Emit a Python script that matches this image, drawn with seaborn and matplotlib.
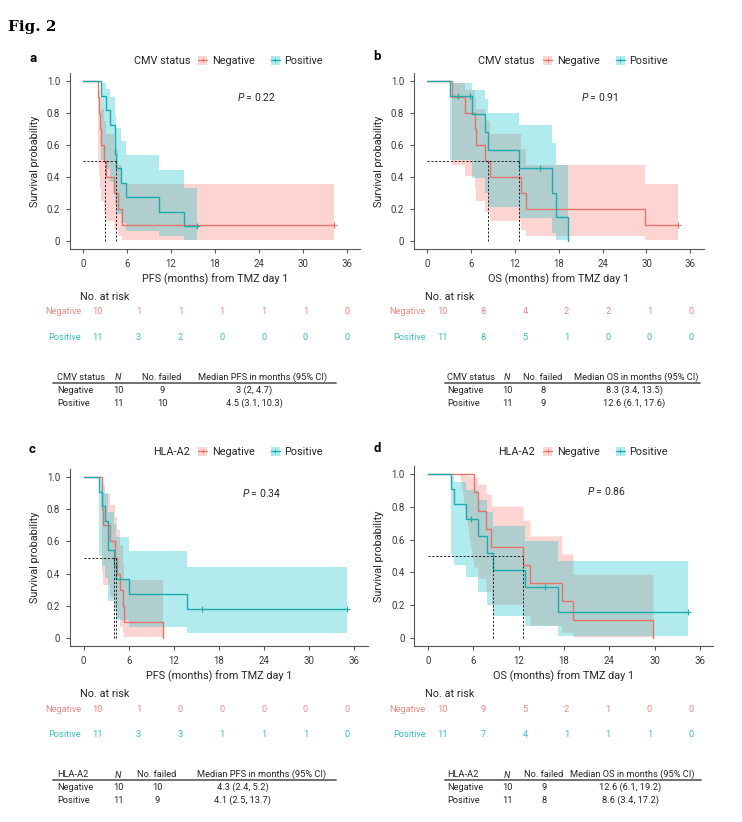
import numpy as np
import seaborn as sns
import matplotlib.pyplot as plt
from matplotlib.lines import Line2D
from matplotlib.patches import Patch
from matplotlib.legend_handler import HandlerTuple

W, H = 742, 822

# ---------------- data ----------------
x_ticks = [0, 6, 12, 18, 24, 30, 36]
y_ticks = [0, 0.2, 0.4, 0.6, 0.8, 1.0]
y_tick_labels = ["0", "0.2", "0.4", "0.6", "0.8", "1.0"]
groups = ["Negative", "Positive"]

# confidence limits of the uncensored groups (10 and 11 patients)
ci10_lo = [1, .473, .409, .329, .253, .184, .123, .071, .031, .006]
ci10_hi = [1, .985, .946, .892, .827, .753, .670, .578, .475, .358]
ci11_lo = [1, .508, .447, .371, .297, .229, .167, .112, .065, .029, .005]
ci11_hi = [1, .987, .951, .903, .845, .780, .707, .627, .539, .442, .333]
surv10 = [1, .9, .8, .7, .6, .5, .4, .3, .2, .1]
surv11 = [1, .909, .818, .727, .636, .545, .455, .364, .273, .182, .091]

# a: PFS by CMV status
a_neg_t = [0, 2.0, 2.2, 2.3, 2.4, 2.9, 3.1, 4.2, 4.7, 5.3, 34.2]
a_neg_s = surv10 + [.1]
a_neg_lo = ci10_lo + [.006]
a_neg_hi = ci10_hi + [.358]
a_neg_cens = [34.2]
a_pos_t = [0, 2.5, 3.1, 3.6, 4.3, 4.4, 4.5, 5.1, 5.9, 10.3, 13.7, 15.5]
a_pos_s = surv11 + [.091]
a_pos_lo = ci11_lo + [.005]
a_pos_hi = ci11_hi + [.333]
a_pos_cens = [15.5]
a_medians = [3.0, 4.5]
a_p = "0.22"
a_risk_neg = [10, 1, 1, 1, 1, 1, 0]
a_risk_pos = [11, 3, 2, 0, 0, 0, 0]
a_table = [["Negative", "10", "9", "3 (2, 4.7)"],
           ["Positive", "11", "10", "4.5 (3.1, 10.3)"]]

# b: OS by CMV status
b_neg_t = [0, 3.4, 5.2, 6.5, 6.7, 7.9, 8.6, 12.9, 13.5, 29.8, 34.3]
b_neg_s = surv10 + [.1]
b_neg_lo = ci10_lo + [.006]
b_neg_hi = ci10_hi + [.358]
b_neg_cens = [34.3]
b_pos_t = [0, 3.1, 6.1, 7.9, 8.3, 12.6, 17.1, 17.6, 19.2]
b_pos_s = [1, .909, .795, .682, .568, .455, .303, .152, 0]
b_pos_lo = [1, .508, .393, .297, .213, .141, .053, .008, np.nan]
b_pos_hi = [1, .987, .946, .886, .800, .728, .615, .475, np.nan]
b_pos_cens = [4.2, 5.8, 15.5]
b_medians = [8.3, 12.6]
b_p = "0.91"
b_risk_neg = [10, 8, 4, 2, 2, 1, 0]
b_risk_pos = [11, 8, 5, 1, 0, 0, 0]
b_table = [["Negative", "10", "8", "8.3 (3.4, 13.5)"],
           ["Positive", "11", "9", "12.6 (6.1, 17.6)"]]

# c: PFS by HLA-A2
c_neg_t = [0, 2.4, 2.5, 2.6, 3.5, 4.2, 4.5, 4.8, 5.2, 5.4, 10.5]
c_neg_s = surv10 + [0]
c_neg_lo = ci10_lo + [np.nan]
c_neg_hi = ci10_hi + [np.nan]
c_neg_cens = []
c_pos_t = [0, 2.1, 2.5, 2.8, 3.2, 3.3, 4.1, 4.35, 6.0, 13.7, 35.0]
c_pos_s = surv11[:10] + [.182]
c_pos_lo = ci11_lo[:10] + [.029]
c_pos_hi = ci11_hi[:10] + [.442]
c_pos_cens = [15.8, 35.0]
c_medians = [4.3, 4.1]
c_p = "0.34"
c_risk_neg = [10, 1, 0, 0, 0, 0, 0]
c_risk_pos = [11, 3, 3, 1, 1, 1, 0]
c_table = [["Negative", "10", "10", "4.3 (2.4, 5.2)"],
           ["Positive", "11", "9", "4.1 (2.5, 13.7)"]]

# d: OS by HLA-A2
d_neg_t = [0, 4.2, 6.1, 6.6, 7.7, 8.4, 12.6, 13.5, 17.7, 19.2, 29.8]
d_neg_s = [1, 1, .889, .778, .667, .556, .444, .333, .222, .111, 0]
d_neg_lo = [1, 1, .433, .365, .282, .204, .136, .078, .034, .006, np.nan]
d_neg_hi = [1, 1, .984, .939, .878, .805, .719, .623, .513, .388, np.nan]
d_neg_cens = []
d_pos_t = [0, 3.1, 3.4, 5.1, 6.6, 7.85, 8.6, 12.9, 17.2, 34.5]
d_pos_s = [1, .909, .818, .727, .623, .519, .416, .312, .156, .156]
d_pos_lo = [1, .508, .447, .371, .278, .199, .131, .075, .011, .011]
d_pos_hi = [1, .987, .951, .903, .840, .767, .684, .591, .469, .469]
d_pos_cens = [5.7, 15.5, 34.5]
d_medians = [12.6, 8.6]
d_p = "0.86"
d_risk_neg = [10, 9, 5, 2, 1, 0, 0]
d_risk_pos = [11, 7, 4, 1, 1, 1, 0]
d_table = [["Negative", "10", "9", "12.6 (6.1, 19.2)"],
           ["Positive", "11", "8", "8.6 (3.4, 17.2)"]]

# ---------------- style ----------------
sns.set_theme(style="ticks")
plt.rcParams["font.family"] = ["Roboto", "DejaVu Sans"]
plt.rcParams["mathtext.fontset"] = "custom"
plt.rcParams["mathtext.rm"] = "Roboto"
plt.rcParams["mathtext.it"] = "Roboto:italic"

line_cols = ["#E5736A", "#1BABB1"]
fill_cols = ["#F8766D", "#00BFC4"]
risk_cols = ["#EE8A81", "#3BBDC4"]
TXT = "#262626"

fig = plt.figure(figsize=(W / 100, H / 100), dpi=100)


def add_px_axes(l, t, r, b):
    return fig.add_axes([l / W, 1 - b / H, (r - l) / W, (b - t) / H])


def ftext(x, y, s, **kw):
    kw.setdefault("va", "center")
    kw.setdefault("color", TXT)
    fig.text(x / W, 1 - y / H, s, **kw)


def stepify(t, y, ramp=()):
    xs, ys = [t[0]], [y[0]]
    for i in range(1, len(t)):
        if (i - 1) not in ramp:
            xs.append(t[i])
            ys.append(y[i - 1])
        xs.append(t[i])
        ys.append(y[i])
    return np.array(xs, float), np.array(ys, float)


def km_panel(box, curves, medians, pval, xlabel, letter, letter_xy,
             factor, key_x, leg_y, risk, risk_box, risk_lab_x,
             table, table_cols, table_rows, rule_x, med_name):
    ax = add_px_axes(*box)
    # curves
    for (t, s, lo, hi, cens, ramp), col in zip(curves, line_cols):
        sns.lineplot(x=np.array(t), y=np.array(s), ax=ax, color=col, lw=1.0,
                     drawstyle="steps-post", estimator=None, sort=False)
    # confidence bands on top
    for (t, s, lo, hi, cens, ramp), col in zip(curves, fill_cols):
        xs, los = stepify(t, lo, ramp)
        _, his = stepify(t, hi, ramp)
        ax.fill_between(xs, los, his, color=col, alpha=0.3, lw=0)
    # median lines
    ax.plot([0, max(medians)], [0.5, 0.5], color="#222222", lw=0.7,
            ls=(0, (2.2, 1.8)))
    for m in medians:
        ax.plot([m, m], [0, 0.5], color="#222222", lw=0.7, ls=(0, (2.2, 1.8)))
    # censor marks
    for (t, s, lo, hi, cens, ramp), col in zip(curves, line_cols):
        if len(cens):
            idx = np.searchsorted(t, cens, side="right") - 1
            ax.plot(cens, np.array(s)[idx], ls="none", marker="+", ms=4,
                    mew=0.8, color=col)
    ax.text(23.6, 0.9, r"$\it{P}$ = " + pval, ha="center", va="center",
            fontsize=7.5, color=TXT)

    ax.set_xlim(-1.8, 37.8)
    ax.set_ylim(-0.05, 1.05)
    ax.set_xticks(x_ticks)
    ax.set_yticks(y_ticks)
    ax.set_yticklabels(y_tick_labels)
    ax.tick_params(length=2.9, width=0.8, color="#555555", labelsize=6.9,
                   labelcolor="#3a3a3a", pad=4.2)
    sns.despine(ax=ax)
    for sp in ["left", "bottom"]:
        ax.spines[sp].set_color("#555555")
        ax.spines[sp].set_linewidth(0.8)
    ax.set_xlabel(xlabel, fontsize=7.8, color=TXT, labelpad=3.5)
    ax.set_ylabel("Survival probability", fontsize=7.8, color=TXT, labelpad=5)

    # legend
    ftext(letter_xy[0], letter_xy[1], letter, weight="bold", fontsize=9.5,
          color="black")
    ftext(key_x - 8, leg_y, factor, ha="right", fontsize=7.8)
    handles = [(Patch(facecolor=fc, alpha=0.3, edgecolor="none"),
                Line2D([], [], color=lc, lw=0.9, marker="+", ms=3.2, mew=0.7))
               for fc, lc in zip(fill_cols, line_cols)]
    leg = ax.legend(handles, groups, loc="center left",
                    bbox_to_anchor=(key_x / W, 1 - leg_y / H),
                    bbox_transform=fig.transFigure, ncol=2, frameon=False,
                    borderaxespad=0, borderpad=0, handlelength=0.85,
                    handleheight=0.85, handletextpad=0.45, columnspacing=1.45,
                    fontsize=7.8, numpoints=1,
                    handler_map={tuple: HandlerTuple(ndivide=1)})
    for txt in leg.get_texts():
        txt.set_color(TXT)

    # number at risk
    rax = add_px_axes(*risk_box)
    rax.set_xlim(0, 36)
    rax.set_ylim(0, 1)
    rax.axis("off")
    ftext(risk_lab_x - 1, risk_box[1] - 15, "No. at risk", fontsize=7.8)
    for row, counts, col, name in zip([1, 0], risk, risk_cols, groups):
        for tt, n in zip(x_ticks, counts):
            rax.text(tt, row, str(n), ha="center", va="center", fontsize=6.7,
                     color=col)
        ftext(risk_lab_x, risk_box[1] if row == 1 else risk_box[3], name,
              ha="right", fontsize=6.7, color=col)

    # summary table
    head = [factor, r"$\it{N}$", "No. failed",
            "Median %s in months (95%% CI)" % med_name]
    lab_x, n_x, f_x, mh_x, mv_x = table_cols
    hy, ry, r1, r2 = table_rows
    ftext(lab_x, hy, head[0], fontsize=6.7)
    ftext(n_x, hy, head[1], ha="center", fontsize=6.7)
    ftext(f_x, hy, head[2], ha="center", fontsize=6.7)
    ftext(mh_x, hy, head[3], ha="center", fontsize=6.7)
    fig.add_artist(Line2D([rule_x[0] / W, rule_x[1] / W],
                          [1 - ry / H, 1 - ry / H], color="#666666", lw=1.3))
    for y, row in zip([r1, r2], table):
        ftext(lab_x, y, row[0], fontsize=6.7)
        ftext(n_x, y, row[1], ha="center", fontsize=6.7)
        ftext(f_x, y, row[2], ha="center", fontsize=6.7)
        ftext(mv_x, y, row[3], ha="center", fontsize=6.7)
    return ax


ftext(8, 27, "Fig. 2", family="DejaVu Serif", weight="bold", fontsize=11,
      color="black")

km_panel((70, 73, 360, 249),
         [(a_neg_t, a_neg_s, a_neg_lo, a_neg_hi, a_neg_cens, ()),
          (a_pos_t, a_pos_s, a_pos_lo, a_pos_hi, a_pos_cens, ())],
         a_medians, a_p, "PFS (months) from TMZ day 1", "a", (29, 59),
         "CMV status", 198, 61, (a_risk_neg, a_risk_pos), (97, 312, 347, 337),
         81, a_table, (57, 118, 162, 263, 254), (377, 383, 390.5, 403.5),
         (53, 336), "PFS")

km_panel((414, 73, 703.5, 249),
         [(b_neg_t, b_neg_s, b_neg_lo, b_neg_hi, b_neg_cens, ()),
          (b_pos_t, b_pos_s, b_pos_lo, b_pos_hi, b_pos_cens, ())],
         b_medians, b_p, "OS (months) from TMZ day 1", "b", (373, 57),
         "CMV status", 543, 61, (b_risk_neg, b_risk_pos), (442, 312, 691, 337),
         426, b_table, (447, 507, 543, 636, 634), (377, 383, 390.5, 403.5),
         (445, 700), "OS")

km_panel((70, 469, 368, 646),
         [(c_neg_t, c_neg_s, c_neg_lo, c_neg_hi, c_neg_cens, ()),
          (c_pos_t, c_pos_s, c_pos_lo, c_pos_hi, c_pos_cens, ())],
         c_medians, c_p, "PFS (months) from TMZ day 1", "c", (29, 449),
         "HLA-A2", 198, 452, (c_risk_neg, c_risk_pos), (97, 709, 347, 734),
         81, c_table, (57, 118, 157, 262, 243), (774, 779.5, 787, 800),
         (53, 336), "PFS")

km_panel((414.4, 466, 713.4, 646),
         [(d_neg_t, d_neg_s, d_neg_lo, d_neg_hi, d_neg_cens, (1,)),
          (d_pos_t, d_pos_s, d_pos_lo, d_pos_hi, d_pos_cens, ())],
         d_medians, d_p, "OS (months) from TMZ day 1", "d", (374, 448),
         "HLA-A2", 543, 452, (d_risk_neg, d_risk_pos), (442, 709, 691, 734),
         426, d_table, (447, 507, 544, 632, 630), (774, 779.5, 787, 800),
         (445, 701), "OS")

fig.savefig("out.png", dpi=100)
